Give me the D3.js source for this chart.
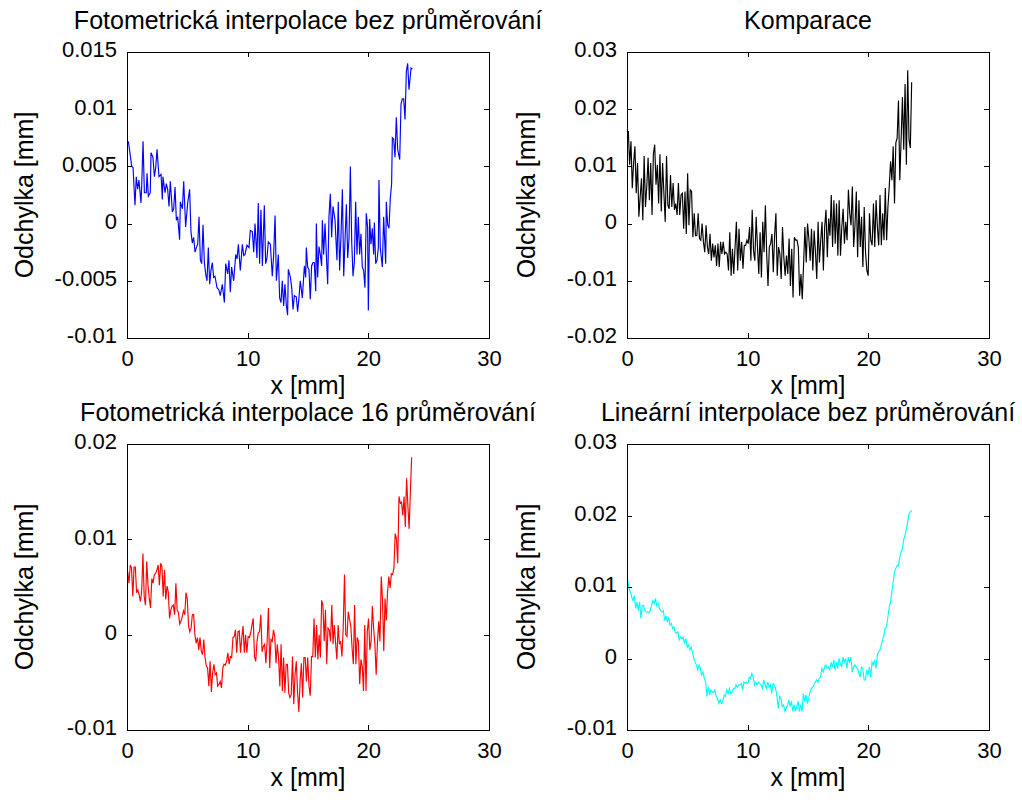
<!DOCTYPE html>
<html>
<head>
<meta charset="utf-8">
<script src="https://cdn.jsdelivr.net/npm/d3@7"></script>
<style>
  html, body { margin: 0; padding: 0; background: #fff; }
  svg { display: block; }
  text { font-family: "Liberation Sans", Arial, Helvetica, sans-serif; fill: #000; }
</style>
</head>
<body>
<svg id="fig" width="1022" height="805"></svg>
<script>
// ---- axis ticks ----
const xTicks = [0, 10, 20, 30];
const yTicksFotoBez = [-0.01, -0.005, 0, 0.005, 0.01, 0.015];
const yTicksKomparace = [-0.02, -0.01, 0, 0.01, 0.02, 0.03];
const yTicksFoto16 = [-0.01, 0, 0.01, 0.02];
const yTicksLinBez = [-0.01, 0, 0.01, 0.02, 0.03];

// ---- Fotometrická interpolace bez průměrování: positions [mm] and deviations [mm] ----
const fotoBezX = [0.11,0.28,0.39,0.50,0.66,0.77,0.88,0.99,1.16,1.22,1.33,1.44,1.60,1.66,1.77,1.93,1.99,2.15,2.27,2.38,
2.49,2.65,2.82,2.93,2.98,3.15,3.26,3.37,3.48,3.59,3.76,3.87,3.98,4.09,4.20,4.36,4.42,4.59,4.70,4.86,
5.03,5.19,5.30,5.41,5.52,5.64,5.75,5.86,5.97,6.08,6.19,6.30,6.41,6.52,6.63,6.74,6.85,6.96,7.07,7.18,
7.29,7.46,7.62,7.73,7.90,8.07,8.18,8.34,8.45,8.56,8.67,8.84,9.01,9.12,9.23,9.39,9.56,9.67,9.78,9.94,
10.11,10.22,10.39,10.50,10.61,10.77,10.88,10.99,11.10,11.22,11.38,11.49,11.60,11.71,11.88,12.04,12.15,12.27,12.38,12.54,
12.65,12.76,12.87,12.98,13.09,13.20,13.31,13.37,13.54,13.65,13.76,13.87,14.03,14.14,14.25,14.36,14.53,14.70,14.81,14.86,
14.97,15.08,15.19,15.30,15.41,15.52,15.64,15.69,15.80,15.91,16.02,16.13,16.19,16.30,16.41,16.52,16.63,16.74,16.85,16.96,
17.07,17.24,17.40,17.51,17.62,17.73,17.85,17.96,18.07,18.18,18.29,18.40,18.51,18.62,18.73,18.84,18.95,19.06,19.17,19.28,
19.39,19.50,19.61,19.72,19.83,19.94,20.00,20.11,20.22,20.33,20.44,20.50,20.61,20.72,20.83,20.88,20.99,21.16,21.27,21.44,
21.49,21.60,21.71,21.82,21.93,21.99,22.10,22.21,22.32,22.43,22.60,22.71,22.82,22.93,23.04,23.15,23.26,23.37,23.54,23.65];
const fotoBezY = [0.0072,0.0059,0.0050,0.0049,0.0016,0.0041,0.0030,0.0038,0.0018,0.0034,
0.0072,0.0027,0.0027,0.0044,0.0024,0.0027,0.0062,0.0058,0.0041,0.0049,
0.0065,0.0041,0.0043,0.0021,0.0041,0.0027,0.0035,0.0030,0.0015,0.0037,
0.0010,0.0013,0.0032,0.0003,0.0006,-0.0014,0.0019,0.0013,0.0037,-0.0003,
0.0018,0.0030,-0.0007,-0.0017,-0.0012,-0.0025,-0.0021,-0.0018,0.0006,-0.0032,
-0.0035,-0.0001,-0.0034,-0.0044,-0.0050,-0.0021,-0.0053,-0.0041,-0.0034,-0.0047,
-0.0046,-0.0056,-0.0058,-0.0063,-0.0053,-0.0069,-0.0035,-0.0044,-0.0032,-0.0060,
-0.0038,-0.0050,-0.0027,-0.0031,-0.0018,-0.0041,-0.0018,-0.0028,-0.0027,-0.0019,
-0.0021,-0.0006,-0.0007,-0.0025,0.0000,-0.0030,0.0018,-0.0035,0.0012,-0.0037,
0.0016,-0.0035,-0.0030,-0.0016,-0.0018,-0.0046,-0.0028,0.0007,-0.0050,-0.0027,
-0.0065,-0.0069,-0.0050,-0.0072,-0.0053,-0.0071,-0.0080,-0.0040,-0.0047,-0.0056,
-0.0075,-0.0063,-0.0064,-0.0077,-0.0065,-0.0050,-0.0065,-0.0037,-0.0047,-0.0021,
-0.0038,-0.0040,-0.0066,-0.0037,-0.0034,-0.0034,-0.0059,0.0000,-0.0047,-0.0020,
-0.0027,-0.0037,0.0003,-0.0027,0.0000,-0.0027,-0.0053,0.0007,0.0026,-0.0012,
0.0015,0.0003,-0.0032,0.0019,-0.0041,-0.0012,0.0030,-0.0046,-0.0014,0.0017,
-0.0030,-0.0013,0.0050,-0.0015,-0.0046,-0.0034,0.0019,-0.0027,0.0006,-0.0027,
-0.0009,-0.0038,-0.0041,-0.0056,0.0009,-0.0003,-0.0076,0.0004,-0.0018,-0.0004,
-0.0027,0.0001,-0.0035,-0.0032,-0.0021,0.0038,-0.0021,-0.0038,0.0006,-0.0035,
0.0019,-0.0001,-0.0004,0.0022,0.0035,0.0075,0.0074,0.0058,0.0093,0.0065,
0.0056,0.0105,0.0109,0.0109,0.0091,0.0133,0.0140,0.0117,0.0136,0.0135];

// ---- Komparace: evenly sampled from 0.11 mm to 23.59 mm ----
const komparaceSpan = [0.11, 23.59];
const komparaceY = [0.0162,0.0103,0.0144,0.0062,0.0106,0.0135,0.0053,0.0106,0.0012,0.0047,
0.0079,0.0006,0.0118,0.0029,0.0065,0.0115,0.0041,0.0106,0.0015,0.0121,
0.0138,0.0068,0.0103,0.0035,0.0121,0.0021,0.0106,0.0053,0.0003,0.0118,
0.0032,0.0026,0.0085,0.0029,0.0071,0.0024,0.0035,0.0015,0.0071,0.0015,
0.0050,0.0053,-0.0009,0.0056,-0.0018,0.0088,-0.0003,0.0059,0.0056,-0.0024,
0.0018,-0.0021,-0.0021,0.0018,-0.0026,-0.0029,0.0000,-0.0032,-0.0050,-0.0003,
-0.0041,-0.0053,-0.0018,-0.0065,-0.0035,-0.0059,-0.0038,-0.0074,-0.0035,-0.0076,
-0.0032,-0.0053,-0.0032,-0.0053,-0.0050,-0.0053,-0.0082,-0.0015,-0.0091,-0.0044,
-0.0088,-0.0041,0.0003,-0.0082,-0.0009,-0.0065,-0.0032,-0.0079,-0.0038,-0.0038,
-0.0029,-0.0035,-0.0006,-0.0065,0.0024,-0.0047,-0.0065,0.0012,-0.0041,-0.0088,
-0.0015,-0.0094,0.0003,-0.0050,0.0032,-0.0053,-0.0109,-0.0041,-0.0035,-0.0018,
-0.0085,-0.0021,0.0018,-0.0091,-0.0041,-0.0053,-0.0097,-0.0006,-0.0059,-0.0091,
-0.0056,-0.0088,-0.0026,-0.0109,-0.0044,-0.0129,-0.0024,-0.0029,-0.0029,-0.0041,
-0.0126,-0.0088,-0.0132,-0.0071,-0.0006,-0.0068,0.0000,-0.0026,-0.0065,-0.0009,
-0.0082,-0.0012,-0.0050,-0.0097,0.0003,-0.0068,-0.0029,0.0003,-0.0082,-0.0006,
0.0024,-0.0059,0.0009,-0.0021,0.0050,-0.0041,0.0041,-0.0035,0.0035,-0.0056,
0.0041,-0.0056,-0.0006,0.0026,-0.0035,0.0003,-0.0029,0.0059,0.0018,-0.0003,
0.0065,-0.0041,-0.0003,0.0056,-0.0059,0.0041,-0.0041,0.0012,-0.0076,0.0029,
-0.0050,-0.0082,-0.0091,0.0018,-0.0029,-0.0038,0.0035,-0.0041,0.0041,-0.0006,
-0.0038,0.0050,-0.0038,0.0018,-0.0029,0.0062,-0.0029,0.0029,0.0065,0.0109,
0.0076,0.0135,0.0035,0.0141,0.0150,0.0215,0.0076,0.0147,0.0221,0.0129,
0.0244,0.0103,0.0268,0.0147,0.0132,0.0247];

// ---- Fotometrická interpolace 16 průměrování: evenly sampled from 0.06 mm to 23.59 mm ----
const foto16Span = [0.06, 23.59];
const foto16Y = [0.0066,0.0054,0.0073,0.0070,0.0040,0.0071,0.0071,0.0044,0.0047,0.0042,
0.0035,0.0045,0.0085,0.0040,0.0031,0.0077,0.0052,0.0038,0.0028,0.0059,
0.0054,0.0063,0.0064,0.0068,0.0073,0.0052,0.0075,0.0071,0.0040,0.0068,
0.0037,0.0051,0.0045,0.0017,0.0026,0.0030,0.0031,0.0021,0.0054,0.0026,
0.0023,0.0011,0.0014,0.0019,0.0025,0.0021,0.0044,0.0037,0.0009,0.0003,
0.0007,0.0021,0.0021,0.0000,-0.0009,-0.0003,-0.0016,-0.0003,-0.0017,-0.0021,
-0.0005,-0.0024,-0.0033,-0.0035,-0.0054,-0.0028,-0.0060,-0.0040,-0.0031,-0.0042,
-0.0040,-0.0054,-0.0052,-0.0049,-0.0056,-0.0035,-0.0031,-0.0032,-0.0028,-0.0019,
-0.0031,-0.0023,-0.0024,-0.0003,-0.0002,0.0005,-0.0019,0.0003,0.0004,-0.0019,
-0.0003,0.0009,-0.0019,0.0000,-0.0019,-0.0002,-0.0003,0.0002,0.0010,0.0017,
-0.0023,-0.0028,-0.0007,0.0002,0.0003,0.0021,-0.0018,-0.0012,-0.0010,-0.0030,
-0.0007,0.0028,-0.0035,-0.0005,-0.0007,0.0005,-0.0002,-0.0030,-0.0010,-0.0024,
-0.0054,-0.0010,-0.0059,-0.0024,-0.0061,-0.0031,-0.0031,-0.0061,-0.0066,-0.0063,
-0.0023,-0.0073,-0.0042,-0.0028,-0.0061,-0.0081,-0.0049,-0.0030,-0.0066,-0.0024,
-0.0024,-0.0049,-0.0024,-0.0054,-0.0064,-0.0023,-0.0023,0.0017,-0.0024,0.0010,
-0.0026,0.0000,-0.0024,0.0036,0.0031,-0.0007,0.0026,-0.0031,0.0007,0.0005,
-0.0007,0.0031,-0.0010,0.0010,-0.0009,-0.0026,0.0010,-0.0010,-0.0007,-0.0023,
0.0007,0.0063,0.0000,-0.0002,0.0024,0.0016,0.0009,-0.0014,-0.0031,0.0031,
-0.0031,-0.0003,-0.0007,-0.0052,-0.0026,-0.0033,-0.0059,0.0010,-0.0059,0.0003,
0.0017,-0.0016,-0.0007,0.0030,0.0007,-0.0010,-0.0042,-0.0009,0.0014,-0.0007,
0.0061,0.0037,-0.0017,0.0038,0.0015,0.0045,0.0061,0.0049,0.0064,0.0063,
0.0070,0.0106,0.0101,0.0075,0.0145,0.0138,0.0139,0.0125,0.0145,0.0113,
0.0164,0.0136,0.0111,0.0150,0.0186];

// ---- Lineární interpolace bez průměrování: evenly sampled from 0.06 mm to 23.59 mm ----
const linBezSpan = [0.06, 23.59];
const linBezY = [0.0109,0.0098,0.0093,0.0086,0.0081,0.0088,0.0070,0.0079,0.0067,0.0079,
0.0056,0.0074,0.0074,0.0067,0.0065,0.0065,0.0064,0.0067,0.0074,0.0081,
0.0077,0.0084,0.0074,0.0077,0.0070,0.0067,0.0065,0.0067,0.0053,0.0060,
0.0051,0.0058,0.0047,0.0049,0.0042,0.0044,0.0037,0.0035,0.0037,0.0026,
0.0030,0.0028,0.0030,0.0021,0.0028,0.0016,0.0019,0.0012,0.0016,0.0009,
0.0000,-0.0005,-0.0009,-0.0016,-0.0009,-0.0014,-0.0023,-0.0019,-0.0028,-0.0033,
-0.0053,-0.0040,-0.0051,-0.0044,-0.0047,-0.0047,-0.0044,-0.0053,-0.0056,-0.0063,
-0.0058,-0.0063,-0.0060,-0.0051,-0.0053,-0.0044,-0.0049,-0.0042,-0.0049,-0.0047,
-0.0042,-0.0042,-0.0037,-0.0040,-0.0037,-0.0037,-0.0035,-0.0044,-0.0033,-0.0035,
-0.0033,-0.0035,-0.0026,-0.0028,-0.0021,-0.0026,-0.0037,-0.0033,-0.0037,-0.0033,
-0.0035,-0.0037,-0.0042,-0.0030,-0.0037,-0.0042,-0.0033,-0.0040,-0.0037,-0.0049,
-0.0035,-0.0037,-0.0042,-0.0053,-0.0070,-0.0053,-0.0056,-0.0067,-0.0065,-0.0074,
-0.0070,-0.0065,-0.0058,-0.0067,-0.0060,-0.0074,-0.0065,-0.0074,-0.0067,-0.0060,
-0.0074,-0.0065,-0.0074,-0.0049,-0.0060,-0.0051,-0.0063,-0.0056,-0.0047,-0.0042,
-0.0040,-0.0037,-0.0033,-0.0030,-0.0033,-0.0028,-0.0026,-0.0014,-0.0019,-0.0012,
-0.0009,-0.0014,-0.0012,-0.0016,-0.0005,-0.0012,-0.0002,-0.0016,-0.0005,-0.0014,
0.0000,-0.0007,-0.0012,0.0002,-0.0005,0.0000,-0.0014,0.0002,-0.0005,0.0002,
-0.0019,-0.0012,-0.0009,-0.0012,-0.0014,-0.0021,-0.0026,-0.0012,-0.0014,-0.0030,
-0.0030,-0.0016,-0.0023,-0.0012,-0.0026,-0.0005,-0.0009,-0.0002,-0.0014,0.0005,
0.0009,0.0012,0.0019,0.0026,0.0033,0.0043,0.0044,0.0058,0.0072,0.0079,
0.0093,0.0107,0.0121,0.0126,0.0130,0.0130,0.0142,0.0149,0.0153,0.0167,
0.0172,0.0181,0.0191,0.0202,0.0205,0.0207];

// positions of evenly sampled measurements across a span
function samplePositions(span, count) {
  const step = (span[1] - span[0]) / (count - 1);
  return d3.range(count).map(i => span[0] + i * step);
}
const zipXY = (xs, ys) => ys.map((v, i) => [xs[i], v]);

// ---- figure layout ----
const panels = [
  { title: "Fotometrická interpolace bez průměrování", left: 127, top: 52, color: "#0000ff",
    yDomain: [-0.01, 0.015], yTicks: yTicksFotoBez, points: zipXY(fotoBezX, fotoBezY) },
  { title: "Komparace", left: 627, top: 52, color: "#000000",
    yDomain: [-0.02, 0.03], yTicks: yTicksKomparace,
    points: zipXY(samplePositions(komparaceSpan, komparaceY.length), komparaceY) },
  { title: "Fotometrická interpolace 16 průměrování", left: 127, top: 444, color: "#ff0000",
    yDomain: [-0.01, 0.02], yTicks: yTicksFoto16,
    points: zipXY(samplePositions(foto16Span, foto16Y.length), foto16Y) },
  { title: "Lineární interpolace bez průměrování", left: 627, top: 444, color: "#00ffff",
    yDomain: [-0.01, 0.03], yTicks: yTicksLinBez,
    points: zipXY(samplePositions(linBezSpan, linBezY.length), linBezY) }
];
const plotW = 362, plotH = 286;
const tickFont = 22, labelFont = 25;
const fmt = v => (v === 0 ? "0" : String(v));

const svg = d3.select("#fig");

panels.forEach(p => {
  const g = svg.append("g").attr("transform", `translate(${p.left},${p.top})`);
  const x = d3.scaleLinear().domain([0, 30]).range([0, plotW]);
  const y = d3.scaleLinear().domain(p.yDomain).range([plotH, 0]);

  // data line
  g.append("path")
    .datum(p.points)
    .attr("fill", "none")
    .attr("stroke", p.color)
    .attr("stroke-width", 1.15)
    .attr("stroke-linejoin", "miter")
    .attr("d", d3.line().x(d => x(d[0])).y(d => y(d[1])));

  // axes with inward ticks on all four sides
  const styleAxis = sel => {
    sel.select(".domain").remove();
    sel.selectAll(".tick line").attr("stroke", "#000").attr("shape-rendering", "crispEdges");
    sel.attr("font-family", null).attr("font-size", tickFont);
  };
  g.append("g").attr("transform", `translate(0,${plotH})`)
    .call(d3.axisBottom(x).tickValues(xTicks).tickSize(-5).tickPadding(12).tickFormat(fmt))
    .call(styleAxis);
  g.append("g")
    .call(d3.axisTop(x).tickValues(xTicks).tickSize(-5).tickFormat(""))
    .call(styleAxis);
  g.append("g")
    .call(d3.axisLeft(y).tickValues(p.yTicks).tickSize(-5).tickPadding(10).tickFormat(fmt))
    .call(styleAxis)
    .selectAll("text").attr("dy", "0.22em");
  g.append("g").attr("transform", `translate(${plotW},0)`)
    .call(d3.axisRight(y).tickValues(p.yTicks).tickSize(-5).tickFormat(""))
    .call(styleAxis);

  // axes box
  g.append("rect")
    .attr("x", 0.5).attr("y", 0.5)
    .attr("width", plotW).attr("height", plotH)
    .attr("fill", "none").attr("stroke", "#000").attr("stroke-width", 1)
    .attr("shape-rendering", "crispEdges");

  // title and labels
  g.append("text")
    .attr("x", plotW / 2).attr("y", -23)
    .attr("text-anchor", "middle")
    .attr("font-size", labelFont)
    .text(p.title);
  g.append("text")
    .attr("x", plotW / 2).attr("y", plotH + 56)
    .attr("text-anchor", "middle")
    .attr("font-size", labelFont)
    .text("x [mm]");
  g.append("text")
    .attr("transform", `translate(${-p.left + (p.left === 127 ? 33 : 535)},${plotH / 2}) rotate(-90)`)
    .attr("text-anchor", "middle")
    .attr("font-size", labelFont)
    .text("Odchylka [mm]");
});
</script>
</body>
</html>
